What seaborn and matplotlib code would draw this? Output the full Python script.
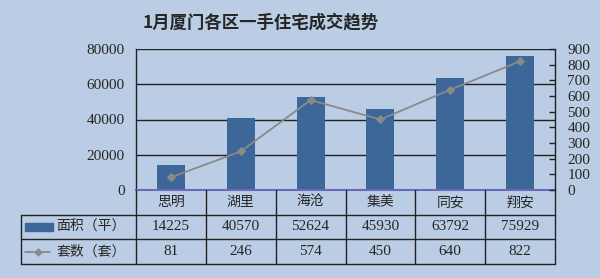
import matplotlib
matplotlib.use("Agg")
import matplotlib.pyplot as plt
import seaborn as sns
import pandas as pd
from matplotlib.patches import Rectangle
from matplotlib.lines import Line2D

categories = ["思明", "湖里", "海沧", "集美", "同安", "翔安"]
area = [14225, 40570, 52624, 45930, 63792, 75929]
units = [81, 246, 574, 450, 640, 822]
area_label = "面积（平）"
units_label = "套数（套）"
title = "1月厦门各区一手住宅成交趋势"
left_ticks = [0, 20000, 40000, 60000, 80000]
right_ticks = [0, 100, 200, 300, 400, 500, 600, 700, 800, 900]

sns.set_theme(style="white")
plt.rcParams['font.family'] = ['Liberation Serif', 'Noto Sans CJK SC', 'DejaVu Sans']

BG = "#bacde4"
BAR = "#3d6699"
LINE = "#8a8a8a"
SPINE = "#6a6ab8"

df = pd.DataFrame({"cat": categories, "area": area, "units": units, "x": range(len(categories))})

fig = plt.figure(figsize=(6, 2.78), dpi=100, facecolor=BG)
ax = fig.add_axes([136/600, (278-190)/278, (555-136)/600, (190-49)/278])
ax.set_facecolor(BG)

sns.barplot(data=df, x="x", y="area", color=BAR, width=0.4, ax=ax, saturation=1,
            native_scale=True, linewidth=0, edgecolor=BAR)
ax.set_xlim(-0.5, len(categories) - 0.5)
ax.set_ylim(0, 80000)
ax.set_yticks(left_ticks)
ax.set_yticklabels([str(t) for t in left_ticks], fontsize=11, family='Liberation Serif')
ax.tick_params(axis='y', length=0, pad=8)
ax.set_xticks([])
ax.set_xlabel("")
ax.set_ylabel("")
for t in left_ticks[1:]:
    ax.axhline(t, color="#222222", lw=1, zorder=0)
for s in ["top", "right"]:
    ax.spines[s].set_visible(False)
ax.spines["left"].set_color("#222222")
ax.spines["left"].set_linewidth(1)
ax.spines["bottom"].set_color(SPINE)
ax.spines["bottom"].set_linewidth(1.5)

ax2 = ax.twinx()
sns.lineplot(data=df, x="x", y="units", color=LINE, marker="D", markersize=4,
             markeredgecolor=LINE, lw=1.3, ax=ax2)
ax2.set_ylim(0, 900)
ax2.set_yticks(right_ticks)
ax2.set_yticklabels([str(t) for t in right_ticks], fontsize=11, family='Liberation Serif')
ax2.tick_params(axis='y', direction='in', length=4, width=1, color="#222222", pad=9)
ax2.set_ylabel("")
ax2.set_xlabel("")
for s in ["top", "left", "bottom"]:
    ax2.spines[s].set_visible(False)
ax2.spines["right"].set_color("#222222")
ax2.spines["right"].set_linewidth(1)

# Data table
tax = fig.add_axes([136/600, (278-264)/278, (555-136)/600, (264-190)/278])
tax.set_xlim(-0.5, len(categories) - 0.5)
tax.set_ylim(0, 3)
tax.axis("off")
xl = -0.5 - (136 - 21) / ((555 - 136) / len(categories))
lc = "#222222"
kw = dict(color=lc, lw=1, clip_on=False)
tax.plot([xl, 5.5], [2, 2], **kw)
tax.plot([xl, 5.5], [1, 1], **kw)
tax.plot([xl, 5.5], [0, 0], **kw)
tax.plot([xl, xl], [0, 2], **kw)
for i in range(len(categories) + 1):
    tax.plot([i - 0.5, i - 0.5], [0, 3], **kw)
cjk = ['Noto Sans CJK SC', 'DejaVu Sans']
for i, c in enumerate(categories):
    tax.text(i, 2.5, c, ha="center", va="center", fontsize=10, family=cjk)
    tax.text(i, 1.5, str(area[i]), ha="center", va="center", fontsize=11, family='Liberation Serif')
    tax.text(i, 0.5, str(units[i]), ha="center", va="center", fontsize=11, family='Liberation Serif')
# legend keys
px = (555 - 136) / len(categories)
def fx(pix):
    return -0.5 + (pix - 136) / px
tax.add_patch(Rectangle((fx(25), 1.33), fx(53) - fx(25), 0.34, color=BAR, clip_on=False))
tax.text(fx(56), 1.5, area_label, ha="left", va="center", fontsize=10, family=cjk)
tax.add_line(Line2D([fx(25), fx(50)], [0.5, 0.5], color=LINE, lw=1.3, marker=None, clip_on=False))
tax.plot([fx(37.5)], [0.5], marker="D", markersize=3.5, color=LINE, clip_on=False)
tax.text(fx(56), 0.5, units_label, ha="left", va="center", fontsize=10, family=cjk)

fig.text(261/600, 1 - 22/278, title, ha="center", va="center", fontsize=12.5,
         fontweight="bold", family=cjk)

fig.savefig("out.png", dpi=100, facecolor=BG)
